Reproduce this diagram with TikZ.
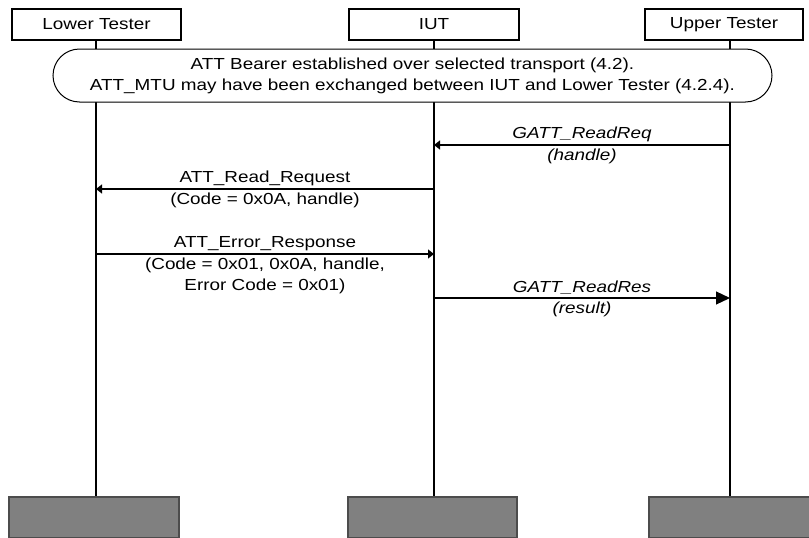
\documentclass[tikz,border=0pt]{standalone}
\usepackage{fontspec}
\setmainfont{Liberation Sans}[FakeStretch=1.18]
\usetikzlibrary{positioning,shapes.misc,arrows.meta}
\tikzset{%
	actor/.style  = {draw, rectangle, minimum height=31pt, minimum width=169pt, inner sep=0pt},
	endbox/.style = {draw=black!70, fill=black!50, rectangle, minimum height=41pt, minimum width=170pt},
	msg/.style    = {-{Triangle[length=6pt,width=9pt]}},
	bigmsg/.style = {-{Triangle[length=14pt,width=13pt]}},
	lbl/.style    = {align=center, inner sep=3pt}
}
\begin{document}
\begin{tikzpicture}[x=1pt, y=-1pt, line width=1.3pt,
	font=\fontsize{16}{21}\selectfont]
	\useasboundingbox (0,0) rectangle (809,538);
	% participants
	\node[actor] (lt) at (96.5,24.5) {Lower Tester};
	\node[actor, minimum width=170pt] (iut) at (434,24.5) {IUT};
	\node[actor, minimum width=158pt] (ut) at (724,24.5) {Upper Tester};
	\node[endbox] (lt-end) at (94,517.5) {};
	\node[endbox, minimum width=169pt] (iut-end) at (432.5,517.5) {};
	\node[endbox] (ut-end) at (734,517.5) {};
	\coordinate (lt-line) at (96,40);
	\coordinate (iut-line) at (434,40);
	\coordinate (ut-line) at (730,40);
	% lifelines
	\draw[line width=1.7pt] (lt-line) -- (lt-line |- lt-end.north);
	\draw[line width=1.7pt] (iut-line) -- (iut-line |- iut-end.north);
	\draw[line width=1.7pt] (ut-line) -- (ut-line |- ut-end.north);
	% preamble condition
	\node[draw, rounded rectangle, fill=white, line width=1pt, minimum width=719pt,
		minimum height=53pt, align=center, inner sep=0pt] (bearer) at (412.5,75.5)
		{ATT Bearer established over selected transport (4.2).\\
		ATT\_MTU may have been exchanged between IUT and Lower Tester (4.2.4).};
	% message points
	\coordinate (ut-m1) at (730,145);
	\coordinate (iut-m1) at (434,145);
	\coordinate (iut-m2) at (434,189);
	\coordinate (lt-m2) at (96,189);
	\coordinate (lt-m3) at (96,254);
	\coordinate (iut-m3) at (434,254);
	\coordinate (iut-m4) at (434,298);
	\coordinate (ut-m4) at (730,298);
	% messages
	\draw[msg, line width=1.2pt] (ut-m1) -- node[lbl, above] {\textit{GATT\_ReadReq}}
		node[lbl, below] {\textit{(handle)}} (iut-m1);
	\draw[msg, line width=1.2pt] (iut-m2) -- node[lbl, above] {ATT\_Read\_Request}
		node[lbl, below] {(Code = 0x0A, handle)} (lt-m2);
	\draw[msg, line width=1.2pt] (lt-m3) -- node[lbl, above] {ATT\_Error\_Response}
		node[lbl, below] {(Code = 0x01, 0x0A, handle,\\ Error Code = 0x01)} (iut-m3);
	\draw[bigmsg, line width=1.2pt] (iut-m4) -- node[lbl, above] {\textit{GATT\_ReadRes}}
		node[lbl, below] {\textit{(result)}} (ut-m4);
\end{tikzpicture}
\end{document}
